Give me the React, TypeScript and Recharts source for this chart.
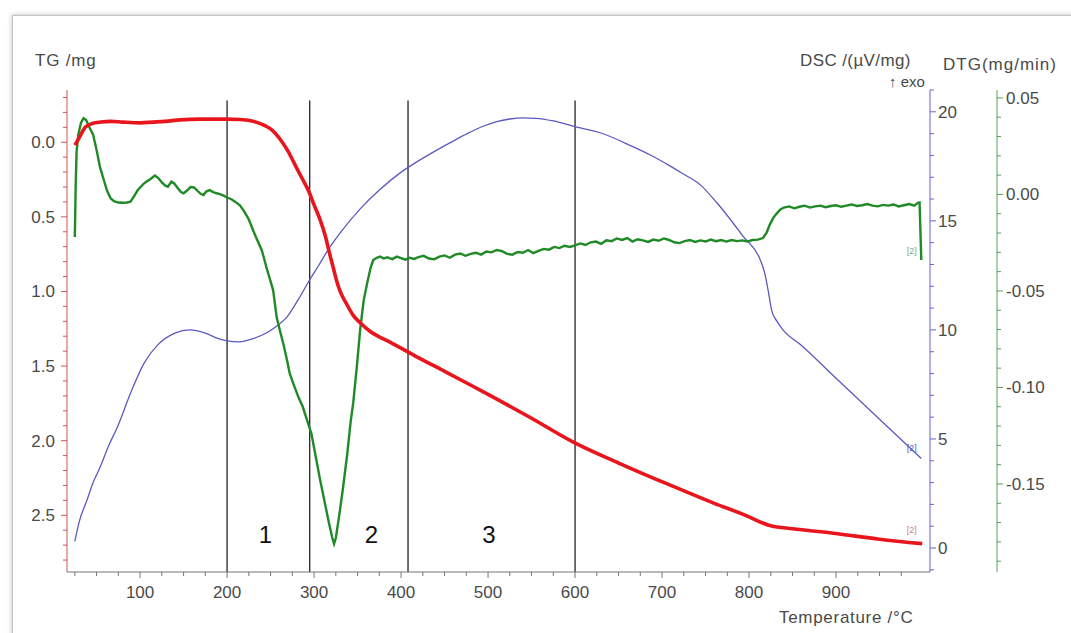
import React from 'react';
import { LineChart, Line, XAxis, YAxis, ReferenceLine, ReferenceDot } from 'recharts';

// ---- data (temperature °C, value) ----
const tgPoints: [number, number][] = [
  [25, 0.02], [30, -0.03], [37, -0.1], [45, -0.125], [55, -0.135], [66, -0.14], [80, -0.135],
  [100, -0.13], [115, -0.135], [129, -0.14], [146, -0.15], [169, -0.155], [200, -0.155],
  [215, -0.152], [226, -0.145], [236, -0.13], [244, -0.11], [252, -0.08], [261, -0.02],
  [270, 0.06], [278, 0.15], [286, 0.24], [294, 0.33], [300, 0.42], [307, 0.52], [313, 0.63],
  [318, 0.75], [322, 0.84], [326, 0.93], [330, 1.0], [337, 1.08], [345, 1.16], [353, 1.21],
  [365, 1.27], [384, 1.33], [400, 1.38], [422, 1.45], [450, 1.535], [476, 1.615], [500, 1.69],
  [550, 1.85], [598, 2.01], [650, 2.15], [706, 2.29], [760, 2.42], [800, 2.51], [815, 2.55],
  [825, 2.57], [850, 2.59], [897, 2.62], [950, 2.66], [999, 2.69],
];

const dscPoints: [number, number][] = [
  [25, 0.3], [30, 1.2], [39, 2.2], [46, 3.0], [54, 3.7], [64, 4.7], [74, 5.55], [90, 7.2],
  [105, 8.5], [120, 9.3], [140, 9.85], [157, 10.0], [175, 9.85], [190, 9.6], [200, 9.5],
  [214, 9.45], [230, 9.6], [245, 9.86], [258, 10.2], [269, 10.6], [282, 11.4], [295, 12.3],
  [306, 13.0], [316, 13.67], [330, 14.45], [353, 15.55], [376, 16.45], [399, 17.2], [420, 17.75],
  [437, 18.15], [455, 18.55], [476, 19.0], [495, 19.35], [510, 19.55], [525, 19.67], [540, 19.72],
  [555, 19.7], [575, 19.58], [602, 19.3], [629, 19.04], [667, 18.39], [686, 18.03], [709, 17.52],
  [724, 17.16], [744, 16.65], [763, 15.83], [793, 14.3], [813, 13.2], [818, 12.6], [822, 11.8],
  [826, 10.9], [832, 10.4], [839, 10.0], [860, 9.3], [897, 7.9], [950, 5.9], [998, 4.1],
];

const dtgPoints: [number, number][] = [
  [25, -0.022], [26, 0.005], [27, 0.022], [29, 0.031], [32, 0.037], [35, 0.0395], [38, 0.0385],
  [42, 0.0345], [46, 0.031], [50, 0.023], [54, 0.014], [58, 0.008], [62, 0.002], [66, -0.002],
  [70, -0.0035], [75, -0.0042], [80, -0.0043], [85, -0.0042], [89, -0.0038], [93, -0.001],
  [97, 0.002], [100, 0.0036], [104, 0.0055], [108, 0.0068], [112, 0.008], [117, 0.0098],
  [121, 0.0085], [125, 0.0062], [129, 0.0045], [132, 0.004], [136, 0.0066], [139, 0.0058],
  [143, 0.0035], [147, 0.0012], [150, 0.0006], [154, 0.002], [158, 0.0038], [162, 0.0036],
  [166, 0.0018], [170, 0.0002], [173, -0.0003], [176, 0.0015], [180, 0.0022], [184, 0.0012],
  [188, 0.0006], [192, 0.0002], [196, -0.0006], [200, -0.0016], [205, -0.0025], [210, -0.004],
  [215, -0.0058], [220, -0.009], [225, -0.013], [230, -0.0187], [235, -0.024], [240, -0.029],
  [246, -0.039], [250, -0.045], [253, -0.0497], [257, -0.0637], [261, -0.071], [265, -0.078],
  [269, -0.086], [272, -0.0927], [277, -0.099], [282, -0.105], [287, -0.11], [292, -0.117],
  [297, -0.124], [302, -0.136], [307, -0.148], [312, -0.159], [317, -0.17], [321, -0.178],
  [323, -0.181], [325, -0.178], [329, -0.166], [333, -0.153], [338, -0.135], [342, -0.118],
  [345, -0.108], [349, -0.09], [353, -0.07], [357, -0.055], [361, -0.046], [365, -0.038],
  [368, -0.034], [372, -0.0328], [376, -0.0322], [380, -0.0332], [384, -0.0326], [390, -0.0335],
  [395, -0.0322], [400, -0.033], [405, -0.0338], [410, -0.0328], [415, -0.0334], [420, -0.0325],
  [426, -0.0318], [432, -0.0332], [438, -0.0336], [444, -0.0322], [450, -0.0316], [456, -0.0328],
  [462, -0.0312], [468, -0.0306], [474, -0.0318], [480, -0.0308], [486, -0.0302], [492, -0.0312],
  [498, -0.0296], [504, -0.03], [510, -0.0288], [516, -0.0294], [522, -0.0308], [528, -0.0312],
  [534, -0.0298], [540, -0.0302], [546, -0.0288], [552, -0.0304], [558, -0.0292], [564, -0.0282],
  [570, -0.0286], [576, -0.0272], [582, -0.0278], [588, -0.0266], [594, -0.0272], [600, -0.0264],
  [606, -0.0254], [612, -0.0262], [618, -0.0248], [624, -0.0244], [630, -0.0256], [636, -0.0238],
  [642, -0.0242], [648, -0.0228], [654, -0.0236], [660, -0.0226], [666, -0.0244], [672, -0.0232],
  [678, -0.0238], [684, -0.0246], [690, -0.0234], [696, -0.024], [702, -0.0228], [708, -0.0236],
  [714, -0.0248], [720, -0.0252], [726, -0.0242], [732, -0.0236], [738, -0.0246], [744, -0.0238],
  [750, -0.0244], [756, -0.0234], [762, -0.0242], [768, -0.0236], [774, -0.0244], [780, -0.0236],
  [786, -0.0242], [792, -0.0238], [798, -0.0244], [804, -0.0236], [810, -0.0234], [816, -0.0226],
  [820, -0.02], [824, -0.0155], [828, -0.012], [832, -0.0098], [836, -0.0078], [840, -0.0068],
  [846, -0.0062], [852, -0.0072], [858, -0.0064], [864, -0.0058], [870, -0.0068], [876, -0.0062],
  [882, -0.0058], [888, -0.0066], [894, -0.006], [900, -0.0056], [906, -0.0064], [912, -0.0058],
  [918, -0.0052], [924, -0.006], [930, -0.0056], [936, -0.005], [942, -0.0058], [948, -0.0062],
  [954, -0.0054], [960, -0.0058], [966, -0.0052], [972, -0.0062], [978, -0.0056], [984, -0.005],
  [990, -0.0058], [994, -0.0044], [996, -0.0042], [998, -0.034],
];

const stageLines = [200, 295, 408, 600];
const stageLabels: [string, number][] = [['1', 244], ['2', 366], ['3', 501]];

const xTicks = [
  25, 50, 75, 100, 125, 150, 175, 200, 225, 250, 275, 300, 325, 350, 375, 400, 425, 450, 475, 500,
  525, 550, 575, 600, 625, 650, 675, 700, 725, 750, 775, 800, 825, 850, 875, 900, 925, 950, 975,
];
const tgTicks = [
  -0.3, -0.2, -0.1, 0, 0.1, 0.2, 0.3, 0.4, 0.5, 0.6, 0.7, 0.8, 0.9, 1.0, 1.1, 1.2, 1.3, 1.4, 1.5,
  1.6, 1.7, 1.8, 1.9, 2.0, 2.1, 2.2, 2.3, 2.4, 2.5, 2.6, 2.7, 2.8,
];
const dscTicks = [-1, 0, 1, 2, 3, 4, 5, 6, 7, 8, 9, 10, 11, 12, 13, 14, 15, 16, 17, 18, 19, 20, 21];
const dtgTicks = [
  -0.19, -0.18, -0.17, -0.16, -0.15, -0.14, -0.13, -0.12, -0.11, -0.1, -0.09, -0.08, -0.07, -0.06,
  -0.05, -0.04, -0.03, -0.02, -0.01, 0, 0.01, 0.02, 0.03, 0.04, 0.05,
];

const tgData = tgPoints.map(([t, v]) => ({ t, v }));
const dscData = dscPoints.map(([t, v]) => ({ t, v }));
const dtgData = dtgPoints.map(([t, v]) => ({ t, v }));

const FONT = '"Liberation Sans", Arial, sans-serif';
const TXT = '#4a4a4a';
const TG_AX = '#cc5555';
const DSC_AX = '#6464c8';
const DTG_AX = '#5f9a5f';
const TICK_FS = 17;

const isMult = (v: number, m: number) => Math.abs(v / m - Math.round(v / m)) < 1e-6;

const XTick = (p: any) => {
  const { x, y, payload } = p;
  const v = payload.value;
  const major = isMult(v, 100);
  return (
    <g>
      <line x1={x} x2={x} y1={y} y2={y + (major ? 6 : 4)} stroke="#777" strokeWidth={1} />
      {major && (
        <text x={x} y={y + 26} textAnchor="middle" fontSize={TICK_FS} fill={TXT} fontFamily={FONT}>
          {v}
        </text>
      )}
    </g>
  );
};

const TgTick = (p: any) => {
  const { x, y, payload } = p;
  const v = payload.value;
  const major = isMult(v, 0.5);
  return (
    <g>
      <line x1={x - (major ? 6 : 4)} x2={x} y1={y} y2={y} stroke={TG_AX} strokeWidth={1} />
      {major && (
        <text x={x - 12} y={y + 6} textAnchor="end" fontSize={TICK_FS} fill={TXT} fontFamily={FONT}>
          {v.toFixed(1)}
        </text>
      )}
    </g>
  );
};

const DscTick = (p: any) => {
  const { x, y, payload } = p;
  const v = payload.value;
  const major = isMult(v, 5);
  return (
    <g>
      <line x1={x} x2={x + (major ? 6 : 4)} y1={y} y2={y} stroke={DSC_AX} strokeWidth={1} />
      {major && (
        <text x={x + 8} y={y + 6} textAnchor="start" fontSize={TICK_FS} fill={TXT} fontFamily={FONT}>
          {v}
        </text>
      )}
    </g>
  );
};

const DtgTick = (p: any) => {
  const { x, y, payload } = p;
  const v = payload.value;
  const major = isMult(v, 0.05);
  const label = Math.abs(v) < 1e-9 ? '0.00' : v.toFixed(2);
  return (
    <g>
      <line x1={x} x2={x + (major ? 6 : 4)} y1={y} y2={y} stroke={DTG_AX} strokeWidth={1} />
      {major && (
        <text x={x + 9} y={y + 6} textAnchor="start" fontSize={TICK_FS} fill={TXT} fontFamily={FONT}>
          {label}
        </text>
      )}
    </g>
  );
};

const title = (text: string, left: number, top: number, extra: React.CSSProperties = {}) => (
  <div
    style={{
      position: 'absolute',
      left,
      top,
      fontFamily: FONT,
      fontSize: 17,
      lineHeight: '17px',
      color: TXT,
      whiteSpace: 'nowrap',
      ...extra,
    }}
  >
    {text}
  </div>
);

export default function App() {
  return (
    <div style={{ position: 'absolute', left: 0, top: 0, width: 1071, height: 633, background: '#fff', overflow: 'hidden' }}>
      <div
        style={{
          position: 'absolute',
          left: 12,
          top: 15,
          width: 1100,
          height: 700,
          border: '1px solid #c4c4c4',
          boxShadow: '0 0 5px rgba(0,0,0,0.25)',
        }}
      />
      <div style={{ position: 'absolute', left: 0, top: 0 }}>
        <LineChart width={1071} height={633} margin={{ top: 90, right: 0, bottom: 0, left: 0 }}>
          <XAxis
            dataKey="t"
            type="number"
            domain={[16, 1008]}
            ticks={xTicks}
            interval={0}
            height={61}
            stroke="#777"
            tickLine={false}
            tickSize={0}
            tickMargin={0}
            tick={<XTick />}
            allowDataOverflow
          />
          <YAxis
            yAxisId="tg"
            orientation="left"
            reversed
            type="number"
            domain={[-0.35, 2.88]}
            ticks={tgTicks}
            interval={0}
            width={67}
            stroke={TG_AX}
            tickLine={false}
            tickSize={0}
            tickMargin={0}
            tick={<TgTick />}
            allowDataOverflow
          />
          <YAxis
            yAxisId="dsc"
            orientation="right"
            type="number"
            domain={[-1.1, 21.0]}
            ticks={dscTicks}
            interval={0}
            width={67}
            stroke={DSC_AX}
            tickLine={false}
            tickSize={0}
            tickMargin={0}
            tick={<DscTick />}
            allowDataOverflow
          />
          <YAxis
            yAxisId="dtg"
            orientation="right"
            type="number"
            domain={[-0.1956, 0.0541]}
            ticks={dtgTicks}
            interval={0}
            width={74}
            stroke={DTG_AX}
            tickLine={false}
            tickSize={0}
            tickMargin={0}
            tick={<DtgTick />}
            allowDataOverflow
          />
          {stageLines.map((t) => (
            <ReferenceLine
              key={t}
              yAxisId="tg"
              segment={[{ x: t, y: -0.28 }, { x: t, y: 2.88 }]}
              stroke="#111"
              strokeWidth={1.2}
            />
          ))}
          <Line
            yAxisId="dsc"
            data={dscData}
            dataKey="v"
            type="monotone"
            stroke="#5a5ac0"
            strokeWidth={1.3}
            dot={false}
            isAnimationActive={false}
          />
          <Line
            yAxisId="dtg"
            data={dtgData}
            dataKey="v"
            type="linear"
            stroke="#1f8a26"
            strokeWidth={2.4}
            dot={false}
            isAnimationActive={false}
          />
          <Line
            yAxisId="tg"
            data={tgData}
            dataKey="v"
            type="monotone"
            stroke="#e8161c"
            strokeWidth={3.6}
            dot={false}
            isAnimationActive={false}
          />
          {stageLabels.map(([txt, t]) => (
            <ReferenceDot
              key={txt}
              yAxisId="tg"
              x={t}
              y={2.63}
              r={0}
              fill="none"
              stroke="none"
              label={{ value: txt, fontSize: 24, fill: '#111', fontFamily: FONT }}
            />
          ))}
          <ReferenceDot yAxisId="tg" x={987} y={2.6} r={0} fill="none" stroke="none"
            label={{ value: '[2]', fontSize: 9, fill: '#d08080', fontFamily: FONT }} />
          <ReferenceDot yAxisId="dsc" x={987} y={4.6} r={0} fill="none" stroke="none"
            label={{ value: '[2]', fontSize: 9, fill: '#5a5ac0', fontFamily: FONT }} />
          <ReferenceDot yAxisId="dtg" x={987} y={-0.029} r={0} fill="none" stroke="none"
            label={{ value: '[2]', fontSize: 9, fill: '#80a880', fontFamily: FONT }} />
        </LineChart>
      </div>
      {title('TG /mg', 35, 52, { letterSpacing: 0.8 })}
      {title('DSC /(µV/mg)', 800, 52, { letterSpacing: 0.4 })}
      {title('DTG(mg/min)', 943, 56, { letterSpacing: 1 })}
      {title('↑ exo', 889, 73, { fontSize: 15 })}
      {title('Temperature /°C', 779, 609, { letterSpacing: 0.7 })}
    </div>
  );
}
